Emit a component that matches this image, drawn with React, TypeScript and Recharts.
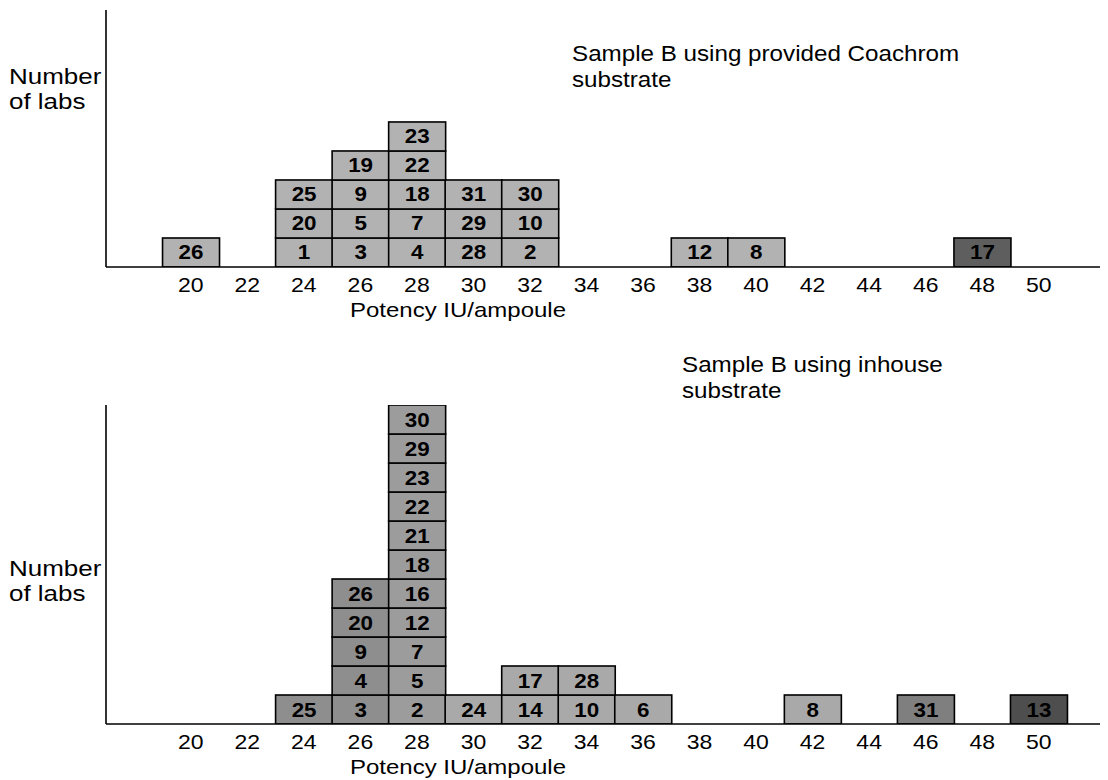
import React from 'react';
import { BarChart, Bar, XAxis, YAxis } from 'recharts';

// ---- data ----
const potencyBins = [18, 20, 22, 24, 26, 28, 30, 32, 34, 36, 38, 40, 42, 44, 46, 48, 50];
const potencyTicks = [20, 22, 24, 26, 28, 30, 32, 34, 36, 38, 40, 42, 44, 46, 48, 50];

// lab numbers stacked bottom -> top, aligned with potencyBins
const coachromLabs: number[][] = [
  [], [26], [], [1, 20, 25], [3, 5, 9, 19], [4, 7, 18, 22, 23], [28, 29, 31], [2, 10, 30],
  [], [], [12], [8], [], [], [], [17], [],
];
const inhouseLabs: number[][] = [
  [], [], [], [25], [3, 4, 9, 20, 26], [2, 5, 7, 12, 16, 18, 21, 22, 23, 29, 30], [24], [14, 17],
  [10, 28], [6], [], [], [8], [], [31], [], [13],
];

const titleTop = ['Sample B using provided Coachrom', 'substrate'];
const titleBottom = ['Sample B using inhouse', 'substrate'];
const yTitle = ['Number', 'of labs'];
const xTitle = 'Potency IU/ampoule';

// ---- helpers ----
const FONT = '"Liberation Sans", Arial, sans-serif';

function buildRows(labs: number[][]) {
  return potencyBins.map((bin, i) => {
    const row: any = { bin };
    labs[i].forEach((lab, k) => {
      row[`l${k}`] = 1;
      row[`lab${k}`] = lab;
    });
    return row;
  });
}

const coachromRows = buildRows(coachromLabs);
const inhouseRows = buildRows(inhouseLabs);

const coachromShade = (bin: number, lab: number) => (lab === 17 ? '#5e5e5e' : '#b2b2b2');
const inhouseShade = (bin: number, lab: number) => {
  if (lab === 13) return '#4e4e4e';
  if (lab === 31) return '#7f7f7f';
  if (bin === 26 || lab === 25) return '#8e8e8e';
  if (bin === 28) return '#9c9c9c';
  return '#a9a9a9';
};

const Tick = (props: any) => {
  const { x, y, payload } = props;
  return (
    <text
      transform={`translate(${x},${y + 25}) scale(1.15,1)`}
      textAnchor="middle"
      fontSize={20}
      fontFamily={FONT}
      fill="#000"
    >
      {payload.value}
    </text>
  );
};

const makeShape = (k: number, shade: (bin: number, lab: number) => string) => (p: any) => {
  const { x, y, width, height, payload } = p;
  const lab = payload ? payload[`lab${k}`] : undefined;
  if (lab == null || !height || height <= 0) return <g />;
  const cx = x + width / 2;
  const cy = y + height / 2;
  return (
    <g>
      <rect x={x} y={y} width={width} height={height} fill={shade(payload.bin, lab)} stroke="#000" strokeWidth={1.6} />
      <text
        transform={`translate(${cx},${cy + 7}) scale(1.12,1)`}
        textAnchor="middle"
        fontSize={20}
        fontWeight="bold"
        fontFamily={FONT}
        fill="#000"
      >
        {lab}
      </text>
    </g>
  );
};

interface PanelProps {
  rows: any[];
  levels: number;
  yMax: number;
  height: number;
  marginTop: number;
  marginBottom: number;
  shade: (bin: number, lab: number) => string;
}

const Panel = ({ rows, levels, yMax, height, marginTop, marginBottom, shade }: PanelProps) => {
  const bars = [];
  for (let k = 0; k < levels; k++) {
    bars.push(
      <Bar
        key={k}
        dataKey={`l${k}`}
        stackId="s"
        isAnimationActive={false}
        shape={makeShape(k, shade)}
      />
    );
  }
  return (
    <BarChart
      width={1108}
      height={height}
      data={rows}
      margin={{ top: marginTop, right: 8, left: 104, bottom: marginBottom }}
      barCategoryGap={0}
      barGap={0}
    >
      <XAxis
        dataKey="bin"
        type="category"
        ticks={potencyTicks}
        interval={0}
        tickLine={false}
        tickSize={0}
        tickMargin={0}
        height={40}
        padding={{ left: 0, right: 33 }}
        axisLine={{ stroke: '#000', strokeWidth: 1.6 }}
        tick={<Tick />}
      />
      <YAxis
        type="number"
        domain={[0, yMax]}
        allowDataOverflow
        width={2}
        tick={false}
        tickLine={false}
        axisLine={{ stroke: '#000', strokeWidth: 1.6 }}
      />
      {bars}
    </BarChart>
  );
};

const T = ({ x, y, children, size = 22, sx = 1.1, anchor = 'start' }: any) => (
  <text
    transform={`translate(${x},${y}) scale(${sx},1)`}
    fontSize={size}
    fontFamily={FONT}
    fill="#000"
    textAnchor={anchor}
  >
    {children}
  </text>
);

export default function App() {
  return (
    <div style={{ position: 'absolute', left: 0, top: 0, width: 1108, height: 780, background: '#fff' }}>
      <div style={{ position: 'absolute', left: 0, top: 0 }}>
        <Panel rows={coachromRows} levels={5} yMax={8.86} height={330} marginTop={10} marginBottom={23} shade={coachromShade} />
      </div>
      <div style={{ position: 'absolute', left: 0, top: 330 }}>
        <Panel rows={inhouseRows} levels={11} yMax={11.0} height={450} marginTop={75} marginBottom={16} shade={inhouseShade} />
      </div>
      <svg width={1108} height={780} style={{ position: 'absolute', left: 0, top: 0, pointerEvents: 'none' }}>
        <T x={572} y={61}>{titleTop[0]}</T>
        <T x={572} y={87}>{titleTop[1]}</T>
        <T x={682} y={372}>{titleBottom[0]}</T>
        <T x={682} y={398}>{titleBottom[1]}</T>
        <T x={9} y={84} size={22} sx={1.18}>{yTitle[0]}</T>
        <T x={9} y={109} size={22} sx={1.18}>{yTitle[1]}</T>
        <T x={9} y={576} size={22} sx={1.18}>{yTitle[0]}</T>
        <T x={9} y={601} size={22} sx={1.18}>{yTitle[1]}</T>
        <T x={458} y={317} size={20} sx={1.2} anchor="middle">{xTitle}</T>
        <T x={458} y={774} size={20} sx={1.2} anchor="middle">{xTitle}</T>
      </svg>
    </div>
  );
}
